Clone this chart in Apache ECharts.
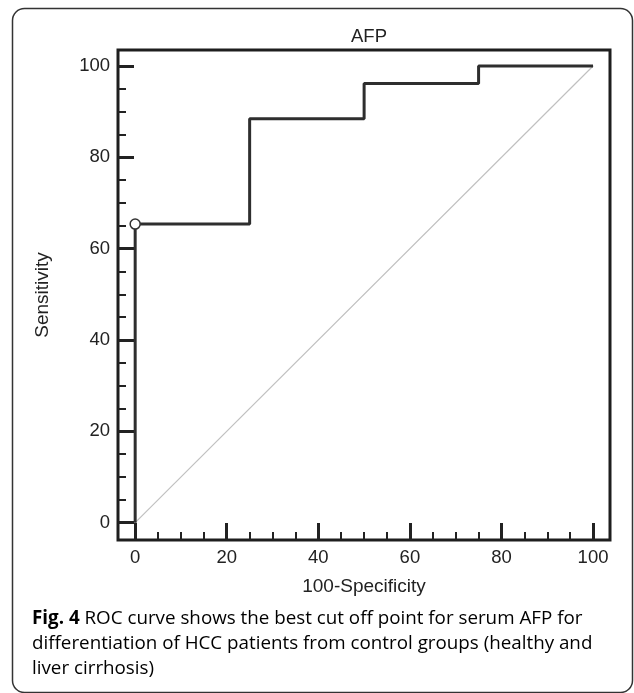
<!DOCTYPE html>
<html>
<head>
<meta charset="utf-8">
<script src="https://cdn.jsdelivr.net/npm/echarts@6/dist/echarts.min.js"></script>
<style>html,body{margin:0;padding:0;background:#fff}#c{width:634px;height:693px}</style>
</head>
<body>
<div id="c"></div>
<script>
// ROC curve points (100-Specificity, Sensitivity)
var fpr = [0, 0, 25, 50, 75, 100];
var tpr = [0, 65.38, 88.46, 96.15, 100, 100];
// best cut-off point
var cutX = [0];
var cutY = [65.38];
// reference diagonal
var diagX = [0, 100];
var diagY = [0, 100];
// ticks
var majorTicks = [0, 20, 40, 60, 80, 100];
var minorTicks = [5, 10, 15, 25, 30, 35, 45, 50, 55, 65, 70, 75, 85, 90, 95];

var titleText = 'AFP';
var xName = '100-Specificity';
var yName = 'Sensitivity';
var captionBold = 'Fig. 4';
var captionLines = [
  ' ROC curve shows the best cut off point for serum AFP for',
  'differentiation of HCC patients from control groups (healthy and',
  'liver cirrhosis)'
];

function zip(a, b) { return a.map(function (v, i) { return [v, b[i]]; }); }

var FONT = 'Liberation Sans, Arial, sans-serif';
var AX = { xmin: -3.75, xmax: 103.7, ymin: -3.8, ymax: 103.5 };

function valueAxis(isX, ticks, len, w, labels) {
  return {
    type: 'value',
    min: isX ? AX.xmin : AX.ymin,
    max: isX ? AX.xmax : AX.ymax,
    position: isX ? 'bottom' : 'left',
    name: labels ? (isX ? xName : yName) : '',
    nameLocation: 'middle',
    nameGap: isX ? 37 : 66,
    nameRotate: isX ? 0 : 90,
    nameTextStyle: { fontFamily: FONT, fontSize: 19, color: '#222' },
    axisLine: { show: false, onZero: false },
    splitLine: { show: false },
    axisTick: { show: true, inside: true, length: len, customValues: ticks, lineStyle: { color: '#222', width: w } },
    axisLabel: labels ? { show: true, customValues: ticks, margin: 8, fontFamily: FONT, fontSize: 18.5, color: '#222' } : { show: false }
  };
}

var chart = echarts.init(document.getElementById('c'), null, { renderer: 'canvas' });
chart.setOption({
  animation: false,
  backgroundColor: '#fff',
  title: {
    text: titleText, left: 364, top: 22, textAlign: 'center',
    textStyle: { fontFamily: FONT, fontSize: 18.5, fontWeight: 'normal', color: '#222' }
  },
  grid: { left: 118, top: 50, right: 24, bottom: 153, show: true, borderColor: '#1e1e1e', borderWidth: 3, backgroundColor: 'transparent' },
  xAxis: [valueAxis(true, majorTicks, 17, 3, true), valueAxis(true, minorTicks, 8, 2, false)],
  yAxis: [valueAxis(false, majorTicks, 16, 3, true), valueAxis(false, minorTicks, 8, 2, false)],
  graphic: [
    { type: 'rect', shape: { x: 12.5, y: 8.5, width: 620, height: 684, r: 12 }, style: { fill: 'none', stroke: '#333', lineWidth: 1.5 }, silent: true },
    {
      type: 'text', left: 32, top: 609,
      style: {
        text: '{b|' + captionBold + '}{n|' + captionLines[0] + '}\n{n|' + captionLines[1] + '}\n{n|' + captionLines[2] + '}',
        rich: {
          b: { fontFamily: 'Open Sans, Noto Sans, sans-serif', fontSize: 18.8, fontWeight: 'bold', color: '#222', lineHeight: 25 },
          n: { fontFamily: 'Open Sans, Noto Sans, sans-serif', fontSize: 18.8, color: '#333', lineHeight: 25 }
        }
      }
    }
  ],
  series: [
    {
      type: 'line', xAxisIndex: 0, yAxisIndex: 0, data: zip(diagX, diagY),
      symbol: 'none', lineStyle: { color: '#c0c0c0', width: 1.2 }, z: 1
    },
    {
      type: 'line', xAxisIndex: 0, yAxisIndex: 0, data: zip(fpr, tpr), step: 'end',
      symbol: 'none', lineStyle: { color: '#2e2e2e', width: 3 }, z: 2
    },
    {
      type: 'scatter', xAxisIndex: 0, yAxisIndex: 0, data: zip(cutX, cutY),
      symbol: 'circle', symbolSize: 10, itemStyle: { color: '#fff', opacity: 1, borderColor: '#333', borderWidth: 1.5 }, z: 3
    }
  ]
});
</script>
</body>
</html>
